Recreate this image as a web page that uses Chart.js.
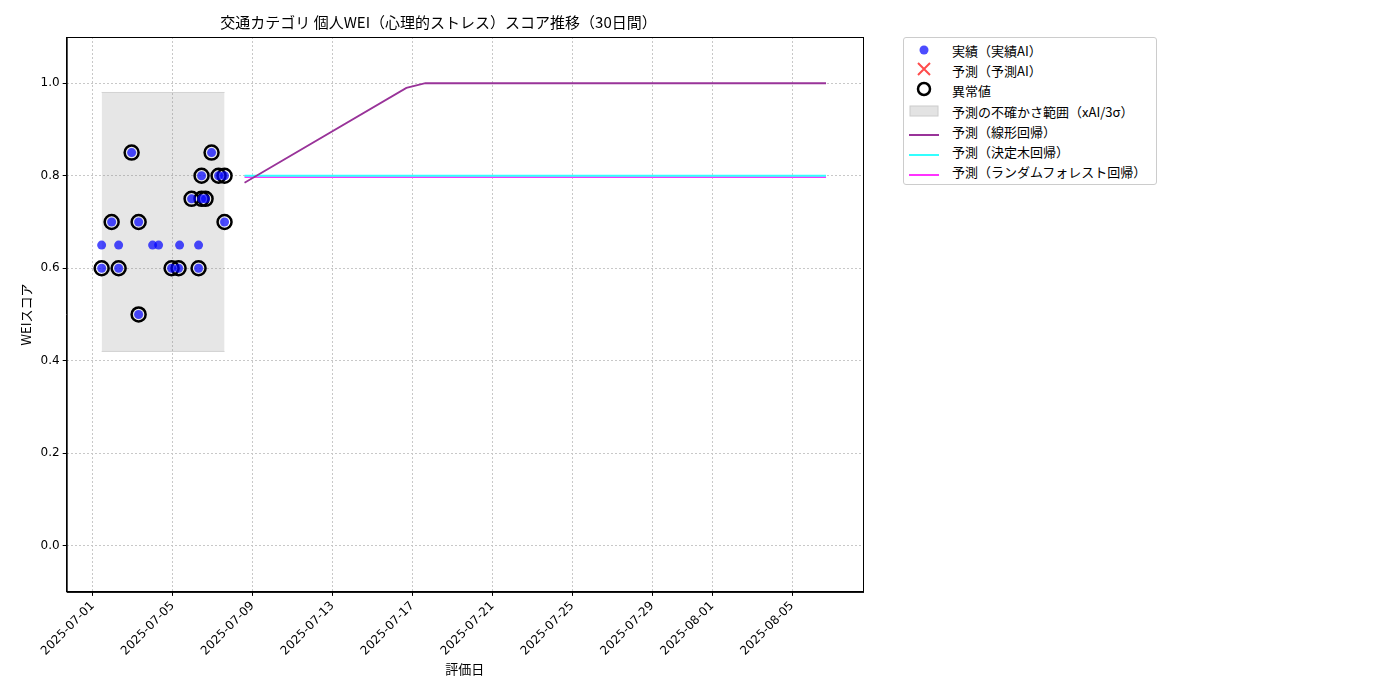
<!DOCTYPE html>
<html><head><meta charset="utf-8">
<script src="https://cdn.jsdelivr.net/npm/chart.js@4.4.1/dist/chart.umd.min.js"></script>
<style>
body{margin:0;background:#fff;font-family:"Noto Sans CJK JP","DejaVu Sans",sans-serif;}
#wrap{position:relative;width:1400px;height:700px;}
#legend{position:absolute;left:903px;top:37px;border:1px solid #ccc;border-radius:3px;padding:2px 10px 2px 4px;font-size:13px;background:#fff;}
#legend div{height:20.3px;display:flex;align-items:center;}
#legend span.k{display:inline-block;width:32px;margin-right:12px;text-align:center;}
</style></head><body>
<div id="wrap"><canvas id="c" width="1400" height="700"></canvas>
<div id="legend">
<div><span class="k"><svg width="12" height="12"><circle cx="6" cy="6" r="4.5" fill="rgba(0,0,255,0.7)"/></svg></span>実績（実績AI）</div>
<div><span class="k"><svg width="14" height="14"><path d="M1 1L13 13M13 1L1 13" stroke="rgba(255,0,0,0.7)" stroke-width="2"/></svg></span>予測（予測AI）</div>
<div><span class="k"><svg width="16" height="16"><circle cx="8" cy="8" r="6" fill="none" stroke="#000" stroke-width="2.5"/></svg></span>異常値</div>
<div><span class="k"><svg width="30" height="12"><rect x="1" y="1" width="28" height="10" fill="#e3e3e3" stroke="#ccc"/></svg></span>予測の不確かさ範囲（xAI/3σ）</div>
<div><span class="k"><svg width="30" height="4"><rect width="30" height="2" y="1" fill="#993399"/></svg></span>予測（線形回帰）</div>
<div><span class="k"><svg width="30" height="4"><rect width="30" height="2" y="1" fill="#33ffff"/></svg></span>予測（決定木回帰）</div>
<div><span class="k"><svg width="30" height="4"><rect width="30" height="2" y="1" fill="#ff33ff"/></svg></span>予測（ランダムフォレスト回帰）</div>
</div></div>
<script>
// x = days since 2025-07-01
const tickDays = [0, 4, 8, 12, 16, 20, 24, 28, 31, 35];
const tickLabels = ['2025-07-01','2025-07-05','2025-07-09','2025-07-13','2025-07-17','2025-07-21','2025-07-25','2025-07-29','2025-08-01','2025-08-05'];
const actualDays = [0.45,0.45,0.95,1.3,1.3,1.95,2.3,2.3,3.0,3.3,3.95,4.3,4.35,4.95,5.3,5.3,5.45,5.45,5.65,5.95,6.3,6.6,6.6];
const actualWei  = [0.6,0.65,0.7,0.6,0.65,0.85,0.7,0.5,0.65,0.65,0.6,0.6,0.65,0.75,0.6,0.65,0.8,0.75,0.75,0.85,0.8,0.8,0.7];
const anomalyDays = [0.45,0.95,1.3,1.95,2.3,2.3,3.95,4.3,4.95,5.3,5.45,5.45,5.65,5.95,6.3,6.6,6.6];
const anomalyWei  = [0.6,0.7,0.6,0.85,0.7,0.5,0.6,0.6,0.75,0.6,0.8,0.75,0.75,0.85,0.8,0.8,0.7];
const bandDays = [0.45, 6.6];
const bandUpper = [0.98, 0.98];
const bandLower = [0.42, 0.42];
const linDays = [7.6, 15.7, 16.65, 36.7];
const linWei = [0.785, 0.99, 1.0, 1.0];
const treeDays = [7.6, 36.7];
const treeWei = [0.8, 0.8];
const rfDays = [7.6, 36.7];
const rfWei = [0.797, 0.797];

const pts = (xs, ys) => xs.map((x, i) => ({x, y: ys[i]}));
const grid = {color:'#c8c8c8', drawTicks:true, tickColor:'#000', tickLength:4};
const border = {color:'#000', dash:[2,2]};

const frame = {id:'frame', afterDraw(c){
  const a = c.chartArea, g = c.ctx;
  g.save(); g.strokeStyle = '#000'; g.lineWidth = 1;
  g.strokeRect(a.left + 0.5, a.top + 0.5, a.right - a.left, a.bottom - a.top);
  g.restore();
}};

new Chart(document.getElementById('c'), {
  type: 'scatter',
  plugins: [frame],
  data: {datasets: [
    {type:'line', data:pts(bandDays,bandUpper), borderWidth:1, borderColor:'rgba(180,180,180,0.5)', pointRadius:0, fill:false, order:5},
    {type:'line', data:pts(bandDays,bandLower), borderWidth:1, borderColor:'rgba(180,180,180,0.5)', backgroundColor:'rgba(128,128,128,0.2)', pointRadius:0, fill:'-1', order:5},
    {data:pts(anomalyDays,anomalyWei), pointRadius:7, pointBorderWidth:2.5, borderColor:'#000', backgroundColor:'rgba(0,0,0,0)', order:2},
    {data:pts(actualDays,actualWei), pointRadius:4.5, borderWidth:0, backgroundColor:'rgba(0,0,255,0.7)', order:1},
    {type:'line', data:pts(linDays,linWei), borderColor:'#993399', borderWidth:1.8, pointRadius:0, order:3},
    {type:'line', data:pts(treeDays,treeWei), borderColor:'#33ffff', borderWidth:1.8, pointRadius:0, order:3},
    {type:'line', data:pts(rfDays,rfWei), borderColor:'#ff33ff', borderWidth:1.8, pointRadius:0, order:3}
  ]},
  options: {
    responsive:false, animation:false,
    layout:{padding:{left:14, right:537, top:7, bottom:23}},
    plugins:{legend:{display:false}, tooltip:{enabled:false},
      title:{display:true, text:'交通カテゴリ 個人WEI（心理的ストレス）スコア推移（30日間）', color:'#000', font:{size:15, weight:'normal', family:'Noto Sans CJK JP'}, padding:{top:6,bottom:6}}},
    scales:{
      x:{type:'linear', min:-1.3, max:38.55, grid:grid, border:border,
        afterBuildTicks: ax => { ax.ticks = tickDays.map(v => ({value:v})); },
        ticks:{color:'#000', font:{size:12, family:'DejaVu Sans'}, maxRotation:45, minRotation:45, autoSkip:false,
          callback: v => tickLabels[tickDays.indexOf(v)] ?? ''},
        title:{display:true, text:'評価日', color:'#000', font:{size:13, family:'Noto Sans CJK JP'}, padding:0}},
      y:{min:-0.1, max:1.1, grid:grid, border:border,
        afterBuildTicks: ax => { ax.ticks = [0,0.2,0.4,0.6,0.8,1.0].map(v => ({value:v})); },
        ticks:{color:'#000', font:{size:12, family:'DejaVu Sans'}, callback: v => v.toFixed(1)},
        title:{display:true, text:'WEIスコア', color:'#000', font:{size:13, family:'Noto Sans CJK JP'}}}
    }
  }
});
</script></body></html>
